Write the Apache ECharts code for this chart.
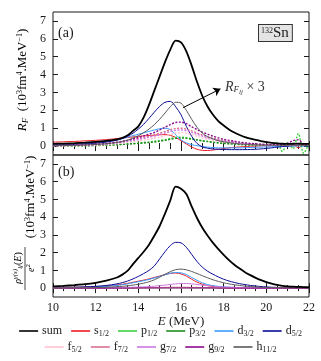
<!DOCTYPE html>
<html>
<head>
<meta charset="utf-8">
<script src="https://cdn.jsdelivr.net/npm/echarts@6/dist/echarts.min.js"></script>
<style>
  html, body { margin: 0; padding: 0; background: #fff; }
  #chart { width: 321px; height: 361px; }
</style>
</head>
<body>
<div id="chart"></div>
<script>
// excitation energy grid (MeV)
const energy = [
  10, 10.5, 11, 11.5, 12, 12.5, 13,
  13.25, 13.5, 13.75, 14, 14.25, 14.5, 14.75, 15,
  15.25, 15.5, 15.75, 16, 16.25, 16.5, 16.75, 17,
  17.25, 17.5, 17.75, 18, 18.25, 18.5, 18.75, 19,
  19.25, 19.5, 19.75, 20, 20.25, 20.5, 20.75, 21,
  21.25, 21.5, 21.75, 22
]
const xTicks = [10, 12, 14, 16, 18, 20, 22]
const yTicks = [0, 1, 2, 3, 4, 5, 6, 7]

// panel (a): R_F sum and R_F_lj x 3
const aSum = [
  0.12, 0.14, 0.16, 0.19, 0.23, 0.29, 0.38,
  0.46, 0.6, 0.85, 1.1, 1.6, 2.3, 3.1, 3.9,
  4.7, 5.4, 5.9, 5.8, 5.3, 4.5, 3.6, 2.8,
  2.2, 1.75, 1.4, 1.15, 0.93, 0.76, 0.62, 0.5,
  0.41, 0.34, 0.28, 0.22, 0.18, 0.15, 0.13, 0.12,
  0.13, 0.14, 0.12, 0.12
]
const aS12 = [
  0.22, 0.24, 0.26, 0.29, 0.32, 0.36, 0.42,
  0.45, 0.48, 0.51, 0.54, 0.57, 0.59, 0.61, 0.63,
  0.64, 0.6, 0.48, 0.3, 0.12, -0.05, -0.18, -0.24,
  -0.25, -0.22, -0.18, -0.14, -0.1, -0.07, -0.05, -0.03,
  -0.01, 0, 0.01, 0.02, 0.02, 0.02, 0.03, 0,
  0.1, -0.1, 0.05, 0.02
]
const aP12 = [
  0.01, 0.01, 0.02, 0.03, 0.04, 0.06, 0.08,
  0.1, 0.12, 0.15, 0.17, 0.2, 0.23, 0.27, 0.31,
  0.36, 0.42, 0.48, 0.5, 0.47, 0.42, 0.36, 0.31,
  0.26, 0.22, 0.18, 0.15, 0.13, 0.11, 0.09, 0.08,
  0.07, 0.06, 0.06, 0.05, 0.05, 0.2, -0.3, 0.2,
  -0.15, 0.7, -0.4, 0.15
]
const aP32 = [
  0.01, 0.01, 0.02, 0.02, 0.03, 0.05, 0.07,
  0.09, 0.11, 0.13, 0.15, 0.17, 0.2, 0.23, 0.27,
  0.32, 0.38, 0.43, 0.45, 0.43, 0.39, 0.34, 0.29,
  0.25, 0.21, 0.18, 0.15, 0.13, 0.11, 0.09, 0.08,
  0.07, 0.06, 0.05, 0.05, 0.04, 0.04, 0.05, 0.04,
  0.05, 0.04, 0.03, 0.03
]
const aD32 = [
  0.1, 0.12, 0.14, 0.17, 0.21, 0.27, 0.36,
  0.42, 0.5, 0.58, 0.66, 0.74, 0.82, 0.9, 0.97,
  1.0, 0.92, 0.62, 0.35, 0.18, 0.08, 0.02, -0.02,
  -0.06, -0.08, -0.1, -0.1, -0.1, -0.1, -0.1, -0.09,
  -0.08, -0.07, -0.06, -0.05, -0.04, -0.03, -0.02, -0.01,
  0, 0.01, 0.01, 0.01
]
const aD52 = [
  0.06, 0.07, 0.09, 0.12, 0.16, 0.22, 0.33,
  0.42, 0.55, 0.72, 0.95, 1.22, 1.55, 1.9, 2.22,
  2.45, 2.5, 2.2, 1.75, 1.1, 0.55, 0.15, -0.05,
  -0.12, -0.16, -0.18, -0.19, -0.2, -0.2, -0.2, -0.2,
  -0.19, -0.18, -0.16, -0.13, -0.1, -0.06, -0.03, 0,
  0.02, 0.03, 0.02, 0.02
]
const aF52 = [
  0.01, 0.02, 0.03, 0.04, 0.06, 0.09, 0.14,
  0.17, 0.21, 0.25, 0.29, 0.33, 0.38, 0.44, 0.5,
  0.58, 0.66, 0.72, 0.75, 0.71, 0.64, 0.55, 0.46,
  0.39, 0.33, 0.27, 0.23, 0.19, 0.16, 0.13, 0.11,
  0.1, 0.08, 0.07, 0.06, 0.05, 0.05, 0.04, 0.04,
  0.05, 0.05, 0.04, 0.04
]
const aF72 = [
  0.02, 0.03, 0.04, 0.06, 0.09, 0.13, 0.2,
  0.25, 0.3, 0.36, 0.42, 0.48, 0.55, 0.62, 0.72,
  0.82, 0.92, 0.98, 1.0, 0.95, 0.85, 0.73, 0.62,
  0.52, 0.44, 0.37, 0.31, 0.26, 0.22, 0.18, 0.15,
  0.13, 0.11, 0.09, 0.08, 0.07, 0.06, 0.06, 0.06,
  0.07, 0.07, 0.06, 0.05
]
const aG72 = [
  0.02, 0.03, 0.04, 0.05, 0.08, 0.12, 0.18,
  0.22, 0.27, 0.32, 0.37, 0.43, 0.5, 0.56, 0.64,
  0.73, 0.82, 0.88, 0.9, 0.86, 0.77, 0.66, 0.56,
  0.47, 0.4, 0.33, 0.28, 0.23, 0.2, 0.16, 0.14,
  0.12, 0.1, 0.08, 0.07, 0.06, 0.05, 0.05, 0.05,
  0.06, 0.06, 0.05, 0.05
]
const aG92 = [
  0.03, 0.04, 0.05, 0.07, 0.1, 0.14, 0.22,
  0.27, 0.33, 0.4, 0.48, 0.57, 0.66, 0.76, 0.9,
  1.05, 1.2, 1.32, 1.34, 1.25, 1.08, 0.92, 0.78,
  0.66, 0.55, 0.46, 0.38, 0.32, 0.27, 0.22, 0.18,
  0.15, 0.12, 0.1, 0.09, 0.08, 0.08, 0.1, 0.15,
  0.3, 0.35, 0.1, 0.05
]
const aH112 = [
  0.02, 0.03, 0.04, 0.06, 0.09, 0.13, 0.2,
  0.25, 0.33, 0.45, 0.58, 0.75, 0.95, 1.2, 1.5,
  1.85, 2.2, 2.45, 2.4, 2.0, 1.5, 1.05, 0.72,
  0.52, 0.4, 0.3, 0.24, 0.19, 0.15, 0.12, 0.1,
  0.08, 0.07, 0.06, 0.05, 0.05, 0.04, 0.04, 0.04,
  0.05, 0.05, 0.04, 0.04
]

// panel (b): strength function rho/e^2
const bSum = [
  0.1, 0.13, 0.17, 0.22, 0.3, 0.42, 0.6,
  0.76, 0.98, 1.35, 1.7, 2.05, 2.45, 2.95, 3.5,
  4.2, 4.95, 5.72, 5.6, 5.3, 4.6, 3.95, 3.4,
  2.95, 2.55, 2.2, 1.88, 1.58, 1.32, 1.1, 0.9,
  0.73, 0.58, 0.45, 0.34, 0.25, 0.18, 0.13, 0.1,
  0.08, 0.07, 0.06, 0.05
]
const bS12 = [
  0.03, 0.04, 0.05, 0.06, 0.08, 0.12, 0.18,
  0.22, 0.27, 0.33, 0.39, 0.45, 0.52, 0.6, 0.68,
  0.76, 0.83, 0.85, 0.8, 0.68, 0.5, 0.34, 0.22,
  0.14, 0.09, 0.06, 0.04, 0.03, 0.02, 0.02, 0.01,
  0.01, 0.01, 0.01, 0.01, 0.01, 0.01, 0.01, 0.01,
  0.01, 0.01, 0.01, 0.01
]
const bP12 = [
  0, 0, 0, 0, 0, 0, 0.01,
  0.01, 0.01, 0.01, 0.01, 0.01, 0.01, 0.02, 0.02,
  0.02, 0.02, 0.02, 0.02, 0.02, 0.02, 0.01, 0.01,
  0.01, 0.01, 0.01, 0, 0, 0, 0, 0,
  0, 0, 0, 0, 0, 0, 0, 0,
  0, 0, 0, 0
]
const bP32 = [
  0, 0, 0, 0, 0, 0, 0.01,
  0.01, 0.01, 0.01, 0.01, 0.02, 0.02, 0.02, 0.02,
  0.03, 0.03, 0.03, 0.03, 0.03, 0.02, 0.02, 0.02,
  0.01, 0.01, 0.01, 0.01, 0, 0, 0, 0,
  0, 0, 0, 0, 0, 0, 0, 0,
  0, 0, 0, 0
]
const bD32 = [
  0.02, 0.03, 0.04, 0.05, 0.07, 0.1, 0.15,
  0.19, 0.24, 0.3, 0.36, 0.42, 0.49, 0.57, 0.66,
  0.75, 0.84, 0.88, 0.86, 0.77, 0.6, 0.44, 0.3,
  0.2, 0.14, 0.1, 0.07, 0.05, 0.04, 0.03, 0.02,
  0.02, 0.02, 0.02, 0.01, 0.01, 0.01, 0.01, 0.01,
  0.01, 0.01, 0.01, 0.01
]
const bD52 = [
  0.03, 0.04, 0.05, 0.07, 0.1, 0.15, 0.24,
  0.31, 0.4, 0.52, 0.66, 0.82, 1.0, 1.25, 1.65,
  2.05, 2.4, 2.58, 2.55, 2.3, 1.9, 1.5, 1.18,
  0.95, 0.78, 0.63, 0.5, 0.4, 0.32, 0.25, 0.2,
  0.15, 0.12, 0.09, 0.07, 0.05, 0.04, 0.03, 0.03,
  0.02, 0.02, 0.02, 0.02
]
const bF52 = [
  0, 0, 0, 0, 0, 0, 0,
  0.01, 0.01, 0.01, 0.01, 0.01, 0.01, 0.01, 0.02,
  0.02, 0.02, 0.02, 0.02, 0.02, 0.02, 0.01, 0.01,
  0.01, 0.01, 0.01, 0, 0, 0, 0, 0,
  0, 0, 0, 0, 0, 0, 0, 0,
  0, 0, 0, 0
]
const bF72 = [
  0, 0, 0, 0, 0, 0.01, 0.01,
  0.01, 0.01, 0.02, 0.02, 0.02, 0.03, 0.03, 0.04,
  0.04, 0.05, 0.05, 0.05, 0.05, 0.04, 0.04, 0.03,
  0.03, 0.02, 0.02, 0.01, 0.01, 0.01, 0.01, 0,
  0, 0, 0, 0, 0, 0, 0, 0,
  0, 0, 0, 0
]
const bG72 = [
  0, 0, 0, 0.01, 0.01, 0.01, 0.02,
  0.03, 0.04, 0.05, 0.06, 0.07, 0.09, 0.11, 0.14,
  0.17, 0.21, 0.24, 0.26, 0.26, 0.24, 0.21, 0.17,
  0.14, 0.11, 0.08, 0.06, 0.05, 0.04, 0.03, 0.02,
  0.02, 0.01, 0.01, 0.01, 0.01, 0.01, 0.01, 0.01,
  0.01, 0.01, 0.01, 0.01
]
const bG92 = [
  0, 0, 0, 0, 0, 0, 0,
  0, 0, 0, 0.01, 0.01, 0.01, 0.01, 0.01,
  0.01, 0.01, 0.01, 0.01, 0.01, 0.01, 0.01, 0.01,
  0.01, 0.01, 0, 0, 0, 0, 0, 0,
  0, 0, 0, 0, 0, 0, 0, 0,
  0, 0, 0, 0
]
const bH112 = [
  0.01, 0.01, 0.02, 0.02, 0.03, 0.05, 0.08,
  0.1, 0.13, 0.17, 0.22, 0.28, 0.36, 0.47, 0.62,
  0.78, 0.93, 1.04, 1.07, 1.03, 0.94, 0.82, 0.7,
  0.58, 0.47, 0.38, 0.3, 0.24, 0.19, 0.15, 0.11,
  0.09, 0.07, 0.05, 0.04, 0.03, 0.03, 0.02, 0.02,
  0.02, 0.02, 0.02, 0.02
]

const names = ['sum', 's1/2', 'p1/2', 'p3/2', 'd3/2', 'd5/2', 'f5/2', 'f7/2', 'g7/2', 'g9/2', 'h11/2']
const colors = ['#000000', '#ec1c24', '#3fcf3f', '#1e8c1e', '#3c9cff', '#0b0b95',
  '#ffc2cf', '#d8708e', '#cc77e0', '#8c0a8c', '#5a5a5a']
const panelA = [aSum, aS12, aP12, aP32, aD32, aD52, aF52, aF72, aG72, aG92, aH112]
const panelB = [bSum, bS12, bP12, bP32, bD32, bD52, bF52, bF72, bG72, bG92, bH112]
// the noisy channels in (a) look dotted
const dottedA = [false, false, true, true, false, false, true, true, true, true, false]

// annotation arrow for "R_Flj x 3" (data coords of panel a)
const arrowFrom = [16.1, 2.15]
const arrowTo = [17.85, 3.2]

const serif = 'Liberation Serif'
const ink = '#1a1a1a'

const chart = echarts.init(document.getElementById('chart'), null, { renderer: 'canvas' })

function xAxis(grid, pos, showLabel) {
  return {
    type: 'value', gridIndex: grid, position: pos,
    min: 10, max: 22, interval: 2,
    axisLine: { show: false },
    splitLine: { show: false },
    axisTick: { inside: true, length: 5, lineStyle: { color: ink } },
    minorTick: { show: true, splitNumber: 4, length: 3, lineStyle: { color: ink } },
    axisLabel: { show: showLabel, margin: 5, fontFamily: serif, fontSize: 12, color: ink }
  }
}

function yAxis(grid, pos, showLabel) {
  return {
    type: 'value', gridIndex: grid, position: pos,
    min: -0.5, max: 7.5,
    axisLine: { show: false },
    splitLine: { show: false },
    axisTick: { inside: true, length: 5, customValues: yTicks, lineStyle: { color: ink } },
    axisLabel: { show: showLabel, customValues: yTicks, margin: 7, fontFamily: serif, fontSize: 12, color: ink }
  }
}

const series = []
;[panelA, panelB].forEach((panel, p) => {
  panel.forEach((vals, k) => {
    const dotted = p === 0 && dottedA[k]
    series.push({
      type: 'line',
      name: names[k],
      xAxisIndex: p,
      yAxisIndex: p,
      data: energy.map((e, j) => [e, vals[j]]),
      showSymbol: false,
      smooth: 0.3,
      z: k === 0 ? 3 : 2,
      itemStyle: { color: colors[k] },
      lineStyle: {
        color: colors[k],
        width: k === 0 ? 1.8 : (dotted ? 1.4 : 1),
        type: dotted ? [2, 1.5] : 'solid'
      }
    })
  })
})

// arrow pointing from the channel curves to the label
series[0].markLine = {
  silent: true,
  symbol: ['none', 'arrow'],
  symbolSize: 7,
  label: { show: false },
  lineStyle: { color: '#000', width: 1, type: 'solid' },
  data: [[{ coord: arrowFrom }, { coord: arrowTo }]]
}

const legendBase = {
  left: 'center',
  icon: 'rect',
  itemWidth: 19,
  itemHeight: 1.6,
  itemGap: 9,
  selectedMode: false,
  formatter: n => n === 'sum' ? 'sum' : n[0] + '{sub|' + n.slice(1) + '}',
  textStyle: {
    fontFamily: serif, fontSize: 12, color: ink, padding: [0, 0, 0, -1],
    rich: { sub: { fontFamily: serif, fontSize: 8, padding: [6, 0, 0, 0], color: ink } }
  }
}

const supRich = {
  i: { fontFamily: serif, fontStyle: 'italic', fontSize: 13, color: ink },
  isub: { fontFamily: serif, fontStyle: 'italic', fontSize: 9, padding: [6, 0, 0, 0], color: ink },
  sup: { fontFamily: serif, fontSize: 8, padding: [0, 0, 7, 0], color: ink },
  t: { fontFamily: serif, fontSize: 13, color: ink }
}

chart.setOption({
  animation: false,
  grid: [
    { left: 53, width: 256, top: 12, height: 143, show: true, borderColor: ink, borderWidth: 1 },
    { left: 53, width: 256, top: 155, height: 142, show: true, borderColor: ink, borderWidth: 1 }
  ],
  xAxis: [
    xAxis(0, 'bottom', false),
    Object.assign(xAxis(1, 'bottom', true), {
      name: '{i|E} {t|(MeV)}', nameLocation: 'middle', nameGap: 15,
      nameTextStyle: { rich: supRich }
    }),
    xAxis(0, 'top', false),
    xAxis(1, 'top', false)
  ],
  yAxis: [
    yAxis(0, 'left', true),
    yAxis(1, 'left', true),
    yAxis(0, 'right', false),
    yAxis(1, 'right', false)
  ],
  legend: [
    Object.assign({ top: 320, data: names.slice(0, 6) }, legendBase),
    Object.assign({ top: 336, data: names.slice(6) }, legendBase)
  ],
  graphic: [
    { type: 'text', x: 58, y: 33, z: 10,
      style: { text: '(a)', font: '14px "Liberation Serif"', fill: ink, verticalAlign: 'middle' } },
    { type: 'text', x: 58, y: 172, z: 10,
      style: { text: '(b)', font: '14px "Liberation Serif"', fill: ink, verticalAlign: 'middle' } },
    { type: 'text', x: 259, y: 25, z: 10,
      style: {
        text: '{s|132}{n|Sn}', backgroundColor: '#e4e4e4', borderColor: '#333', borderWidth: 1,
        padding: [1, 3, 0, 2],
        rich: {
          s: { fontFamily: serif, fontSize: 8, padding: [0, 0, 6, 0], fill: ink },
          n: { fontFamily: serif, fontSize: 15, fill: ink }
        }
      } },
    { type: 'text', x: 225, y: 87, z: 10,
      style: {
        text: '{i|R}{s|F}{ss|lj}{t| × 3}', verticalAlign: 'middle',
        rich: {
          i: { fontFamily: serif, fontStyle: 'italic', fontSize: 14, fill: '#333' },
          s: { fontFamily: serif, fontStyle: 'italic', fontSize: 9, padding: [6, 0, 0, 0], fill: '#333' },
          ss: { fontFamily: serif, fontStyle: 'italic', fontSize: 7, padding: [11, 0, 0, 0], fill: '#333' },
          t: { fontFamily: serif, fontSize: 14, fill: '#333' }
        }
      } },
    // y title, panel (a)
    { type: 'text', x: 23, y: 80, rotation: Math.PI / 2, z: 10,
      style: {
        text: '{i|R}{isub|F}{t|  (10}{sup|3}{t|fm}{sup|4}{t|.MeV}{sup|−1}{t|)}',
        align: 'center', verticalAlign: 'middle', rich: supRich
      } },
    // y title, panel (b): unit part
    { type: 'text', x: 31, y: 197, rotation: Math.PI / 2, z: 10,
      style: {
        text: '{t|(10}{sup|3}{t|fm}{sup|4}{t|.MeV}{sup|−1}{t|)}',
        align: 'center', verticalAlign: 'middle', rich: supRich
      } },
    // fraction numerator
    { type: 'text', x: 18, y: 268, rotation: Math.PI / 2, z: 10,
      style: {
        text: '{i|ρ}{sup|γ(s)}{sub|lj}{t|(}{i|E}{t|)}',
        align: 'center', verticalAlign: 'middle',
        rich: {
          i: { fontFamily: serif, fontStyle: 'italic', fontSize: 10, color: ink },
          t: { fontFamily: serif, fontSize: 10, color: ink },
          sup: { fontFamily: serif, fontStyle: 'italic', fontSize: 7, padding: [0, 0, 6, 0], color: ink },
          sub: { fontFamily: serif, fontStyle: 'italic', fontSize: 7, padding: [5, 0, 0, 0], color: ink }
        }
      } },
    { type: 'line', z: 10, shape: { x1: 25, y1: 247, x2: 25, y2: 290 }, style: { stroke: ink, lineWidth: 0.8 } },
    // fraction denominator
    { type: 'text', x: 31, y: 268, rotation: Math.PI / 2, z: 10,
      style: {
        text: '{i|e}{sup|2}', align: 'center', verticalAlign: 'middle',
        rich: {
          i: { fontFamily: serif, fontStyle: 'italic', fontSize: 10, color: ink },
          sup: { fontFamily: serif, fontSize: 7, padding: [0, 0, 6, 0], color: ink }
        }
      } }
  ],
  series
})
</script>
</body>
</html>
